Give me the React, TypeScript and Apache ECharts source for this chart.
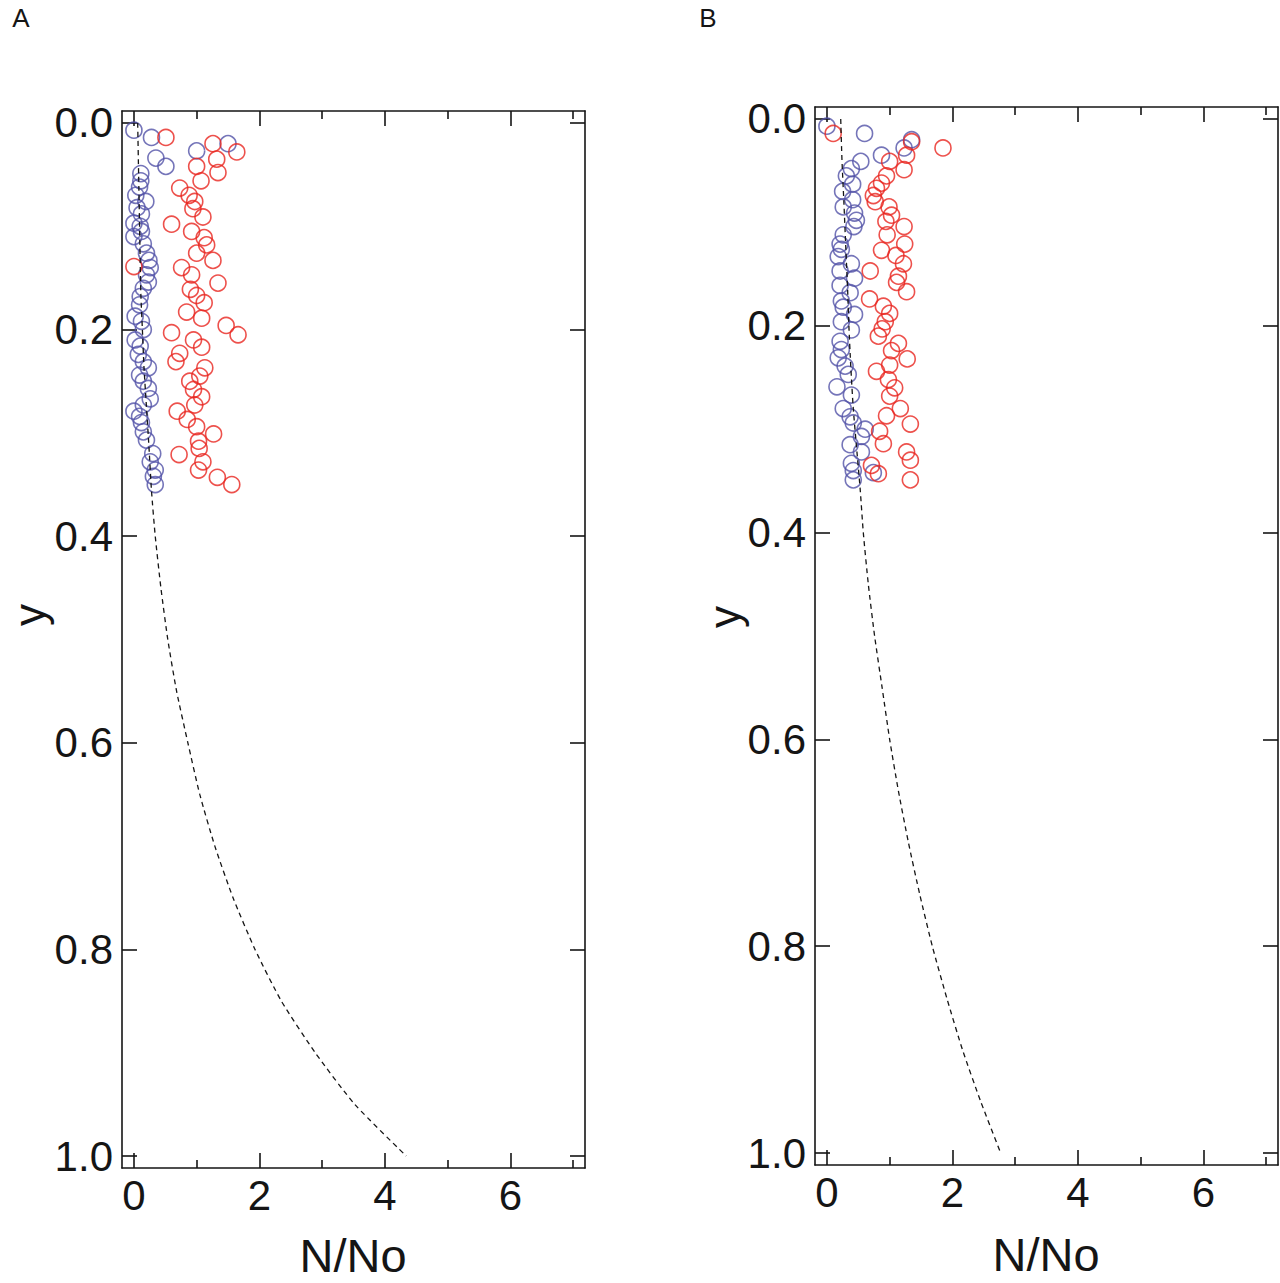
import React, { useEffect, useRef } from "react";
import * as echarts from "echarts";

// ---------- data (x = N/No, y = depth) ----------
const xMajorTicks = [0, 2, 4, 6];
const xMinorTicks = [1, 3, 5, 7];
const yTicks = [0, 0.2, 0.4, 0.6, 0.8, 1.0];

const blueA: number[][] = [
  [0.0, 0.007], [0.28, 0.014], [1.0, 0.027], [1.5, 0.02], [0.35, 0.034], [0.51, 0.042],
  [0.11, 0.049], [0.11, 0.056], [0.09, 0.062], [0.03, 0.07], [0.19, 0.076], [0.05, 0.082],
  [0.12, 0.088], [0.0, 0.097], [0.1, 0.1], [0.12, 0.105], [0.0, 0.11], [0.15, 0.117],
  [0.2, 0.126], [0.24, 0.133], [0.26, 0.14], [0.2, 0.147], [0.23, 0.154], [0.15, 0.16],
  [0.1, 0.168], [0.09, 0.176], [0.02, 0.187], [0.12, 0.192], [0.15, 0.2], [0.02, 0.21],
  [0.1, 0.216], [0.07, 0.224], [0.15, 0.231], [0.23, 0.237], [0.09, 0.244], [0.15, 0.25],
  [0.23, 0.257], [0.26, 0.267], [0.15, 0.273], [0.0, 0.279], [0.09, 0.284], [0.12, 0.29],
  [0.15, 0.299], [0.2, 0.307], [0.3, 0.32], [0.26, 0.328], [0.34, 0.336], [0.31, 0.342],
  [0.34, 0.35],
];

const redA: number[][] = [
  [0.51, 0.014], [1.26, 0.02], [1.64, 0.028], [1.32, 0.035], [1.0, 0.042], [1.34, 0.048],
  [1.07, 0.056], [0.73, 0.063], [0.88, 0.07], [0.97, 0.076], [0.94, 0.083], [1.1, 0.091],
  [0.6, 0.098], [0.92, 0.105], [1.12, 0.111], [1.16, 0.118], [1.0, 0.126], [1.26, 0.133],
  [0.0, 0.139], [0.76, 0.14], [0.92, 0.147], [1.34, 0.155], [0.9, 0.161], [1.0, 0.167],
  [1.12, 0.174], [0.84, 0.183], [1.08, 0.189], [1.47, 0.196], [1.66, 0.205], [0.6, 0.203],
  [0.95, 0.21], [1.08, 0.217], [0.73, 0.223], [0.67, 0.231], [1.13, 0.237], [1.05, 0.245],
  [0.89, 0.25], [0.95, 0.258], [1.08, 0.265], [0.97, 0.273], [0.69, 0.279], [0.85, 0.287],
  [1.0, 0.294], [1.27, 0.301], [1.03, 0.308], [1.04, 0.315], [0.72, 0.321], [1.1, 0.328],
  [1.03, 0.336], [1.33, 0.343], [1.56, 0.35],
];

const curveA: number[][] = [
  [0.06, 0.0], [0.075, 0.05], [0.09, 0.1], [0.11, 0.165], [0.135, 0.2], [0.16, 0.236],
  [0.2, 0.275], [0.24, 0.314], [0.28, 0.356], [0.34, 0.4], [0.43, 0.45], [0.54, 0.5],
  [0.68, 0.55], [0.86, 0.6], [1.05, 0.65], [1.29, 0.7], [1.58, 0.75], [1.93, 0.8],
  [2.35, 0.85], [2.89, 0.9], [3.52, 0.95], [4.34, 1.0],
];

const blueB: number[][] = [
  [0.0, 0.007], [0.6, 0.014], [1.35, 0.02], [1.23, 0.028], [0.87, 0.035], [0.54, 0.041],
  [0.39, 0.048], [0.31, 0.055], [0.41, 0.063], [0.25, 0.07], [0.41, 0.078], [0.26, 0.085],
  [0.44, 0.091], [0.47, 0.098], [0.43, 0.104], [0.26, 0.112], [0.21, 0.121], [0.23, 0.126],
  [0.18, 0.133], [0.39, 0.14], [0.21, 0.147], [0.44, 0.154], [0.21, 0.161], [0.37, 0.168],
  [0.23, 0.176], [0.26, 0.182], [0.44, 0.189], [0.23, 0.196], [0.39, 0.204], [0.21, 0.215],
  [0.23, 0.223], [0.18, 0.231], [0.29, 0.239], [0.34, 0.247], [0.16, 0.259], [0.39, 0.267],
  [0.26, 0.28], [0.37, 0.288], [0.42, 0.294], [0.61, 0.3], [0.55, 0.307], [0.37, 0.315],
  [0.55, 0.322], [0.39, 0.333], [0.42, 0.34], [0.42, 0.349], [0.74, 0.342],
];

const redB: number[][] = [
  [0.1, 0.014], [1.35, 0.022], [1.85, 0.028], [1.27, 0.035], [1.0, 0.041], [1.23, 0.049],
  [0.95, 0.055], [0.87, 0.062], [0.79, 0.067], [0.74, 0.074], [0.77, 0.08], [0.99, 0.085],
  [1.03, 0.093], [0.94, 0.099], [1.23, 0.104], [0.96, 0.112], [1.24, 0.121], [0.87, 0.127],
  [1.1, 0.132], [1.22, 0.14], [0.69, 0.147], [1.14, 0.152], [1.11, 0.158], [1.27, 0.167],
  [0.68, 0.174], [0.9, 0.181], [1.0, 0.188], [0.93, 0.196], [0.88, 0.203], [0.82, 0.21],
  [1.14, 0.217], [1.03, 0.224], [1.28, 0.232], [1.0, 0.238], [0.79, 0.244], [0.98, 0.252],
  [1.08, 0.26], [1.0, 0.268], [1.17, 0.28], [0.95, 0.287], [1.33, 0.295], [0.84, 0.302],
  [0.9, 0.314], [1.27, 0.322], [1.33, 0.33], [0.71, 0.335], [0.82, 0.343], [1.33, 0.349],
];

const curveB: number[][] = [
  [0.22, 0.0], [0.24, 0.04], [0.27, 0.08], [0.3, 0.123], [0.33, 0.165], [0.35, 0.2],
  [0.38, 0.239], [0.42, 0.28], [0.47, 0.316], [0.53, 0.358], [0.58, 0.4], [0.66, 0.45],
  [0.76, 0.5], [0.88, 0.55], [1.0, 0.6], [1.14, 0.65], [1.3, 0.7], [1.48, 0.75],
  [1.68, 0.8], [1.91, 0.85], [2.16, 0.9], [2.45, 0.95], [2.77, 1.0],
];

// ---------- styles ----------
const FONT = "'Liberation Sans', Arial, Helvetica, sans-serif";
const INK = "#151515";
const BLUE = "#5252a8";
const RED = "#e8251f";

const X_MIN = -0.19;
const X_MAX = 7.19;
const Y_MIN = -0.0116;
const Y_MAX = 1.0116;

const lineSt = { color: INK, width: 1.6 };

function xAxisMajor(gridIndex: number, position: string, labels: boolean) {
  return {
    type: "value",
    gridIndex,
    position,
    min: X_MIN,
    max: X_MAX,
    axisLine: { show: true, onZero: false, lineStyle: lineSt },
    axisTick: { show: true, inside: true, length: 15, customValues: xMajorTicks, lineStyle: lineSt },
    axisLabel: {
      show: labels,
      customValues: xMajorTicks,
      fontSize: 42,
      fontFamily: FONT,
      color: INK,
      margin: 6,
    },
    splitLine: { show: false },
  };
}

function xAxisMinor(gridIndex: number, position: string) {
  return {
    type: "value",
    gridIndex,
    position,
    min: X_MIN,
    max: X_MAX,
    axisLine: { show: false, onZero: false },
    axisTick: { show: true, inside: true, length: 8, customValues: xMinorTicks, lineStyle: lineSt },
    axisLabel: { show: false },
    splitLine: { show: false },
  };
}

function yAxisMain(gridIndex: number, position: string, labels: boolean) {
  return {
    type: "value",
    gridIndex,
    position,
    inverse: true,
    min: Y_MIN,
    max: Y_MAX,
    axisLine: { show: true, onZero: false, lineStyle: lineSt },
    axisTick: { show: true, inside: true, length: 15, customValues: yTicks, lineStyle: lineSt },
    axisLabel: {
      show: labels,
      customValues: yTicks,
      formatter: (v: number) => v.toFixed(1),
      fontSize: 42,
      fontFamily: FONT,
      color: INK,
      margin: 9,
    },
    splitLine: { show: false },
  };
}

function yAxisHidden(gridIndex: number) {
  return {
    type: "value",
    gridIndex,
    show: false,
    inverse: true,
    min: Y_MIN,
    max: Y_MAX,
  };
}

function scatter(data: number[][], color: string, axisX: number, axisY: number) {
  return {
    type: "scatter",
    xAxisIndex: axisX,
    yAxisIndex: axisY,
    data,
    symbol: "circle",
    symbolSize: 16,
    itemStyle: { color: "rgba(0,0,0,0)", borderColor: color, borderWidth: 1.6 },
    silent: true,
  };
}

function curve(data: number[][], axisX: number, axisY: number) {
  return {
    type: "line",
    xAxisIndex: axisX,
    yAxisIndex: axisY,
    data,
    showSymbol: false,
    smooth: 0.2,
    lineStyle: { color: INK, width: 1.3, type: [5, 4] },
    silent: true,
    z: 3,
  };
}

function txt(text: string, x: number, y: number, size: number, rotation = 0) {
  return {
    type: "text",
    x,
    y,
    rotation,
    style: {
      text,
      fontSize: size,
      fontFamily: FONT,
      fill: INK,
      align: "center",
      verticalAlign: "middle",
    },
  };
}

export default function App() {
  const ref = useRef<HTMLDivElement>(null);

  useEffect(() => {
    document.body.style.margin = "0";
    if (!ref.current) return;
    const chart = echarts.init(ref.current, undefined, { renderer: "svg" });

    const gridA = { left: 122, top: 111, width: 463, height: 1057, containLabel: false };
    const gridB = { left: 815, top: 107, width: 463, height: 1058, containLabel: false };

    const option: any = {
      animation: false,
      backgroundColor: "#ffffff",
      grid: [gridA, gridB, { ...gridA }, { ...gridB }],
      xAxis: [
        xAxisMajor(0, "bottom", true),
        xAxisMajor(0, "top", false),
        xAxisMajor(1, "bottom", true),
        xAxisMajor(1, "top", false),
        xAxisMinor(2, "bottom"),
        xAxisMinor(2, "top"),
        xAxisMinor(3, "bottom"),
        xAxisMinor(3, "top"),
      ],
      yAxis: [
        yAxisMain(0, "left", true),
        yAxisMain(0, "right", false),
        yAxisMain(1, "left", true),
        yAxisMain(1, "right", false),
        yAxisHidden(2),
        yAxisHidden(3),
      ],
      series: [
        curve(curveA, 0, 0),
        scatter(blueA, BLUE, 0, 0),
        scatter(redA, RED, 0, 0),
        curve(curveB, 2, 2),
        scatter(blueB, BLUE, 2, 2),
        scatter(redB, RED, 2, 2),
      ],
      graphic: [
        txt("A", 21, 18, 26),
        txt("B", 708, 18, 26),
        txt("N/No", 353, 1255, 47),
        txt("N/No", 1046, 1254, 47),
        txt("y", 29, 615, 44, Math.PI / 2),
        txt("y", 724, 617, 44, Math.PI / 2),
      ],
    };

    chart.setOption(option);
    return () => chart.dispose();
  }, []);

  return <div ref={ref} style={{ width: 1280, height: 1283 }} />;
}
